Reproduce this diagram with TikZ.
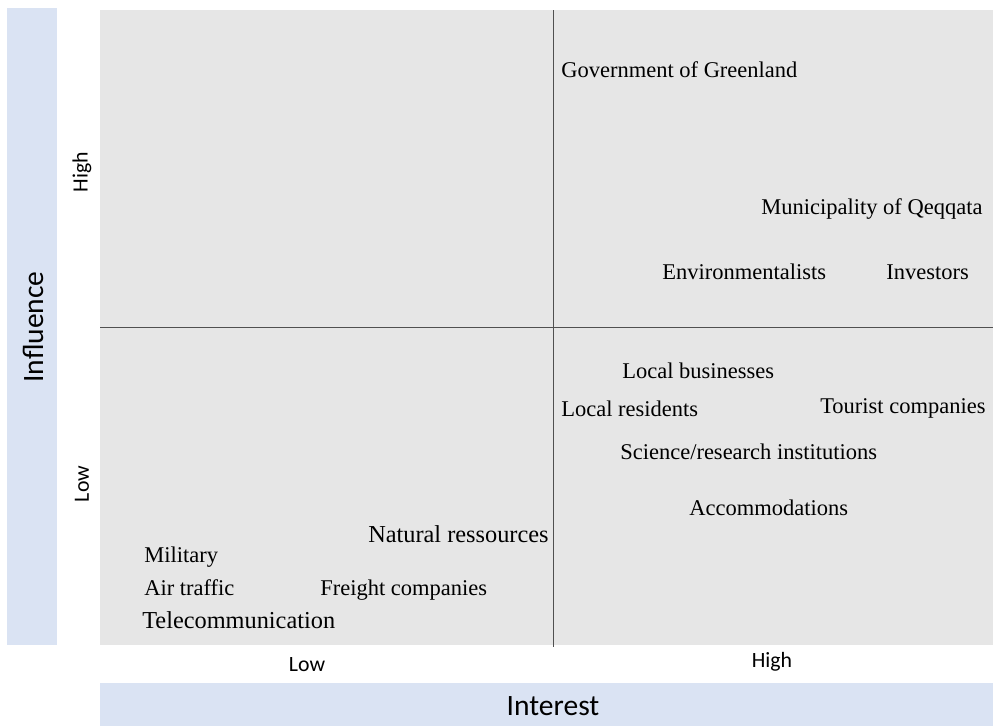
\documentclass[tikz,border=0pt]{standalone}
\usepackage{fontspec}
\setmainfont{Liberation Serif}
\newfontfamily\axisfont{Carlito}
\usepackage{xcolor}
\usepackage{tikz}
\usetikzlibrary{positioning}

\definecolor{quadgray}{HTML}{E6E6E6}
\definecolor{barblue}{HTML}{DAE3F3}
\definecolor{linegray}{HTML}{505050}

\begin{document}
\begin{tikzpicture}[
    x=0.025cm, y=-0.025cm,
    stake/.style={anchor=base west, inner sep=0pt, font=\fontsize{16}{19}\selectfont},
    bigstake/.style={stake, font=\fontsize{17.3}{20}\selectfont},
    levellab/.style={inner sep=0pt, font=\axisfont\fontsize{15.5}{18}\selectfont},
    axislab/.style={inner sep=0pt, font=\axisfont\fontsize{21}{24}\selectfont}
]

\useasboundingbox (0,0) rectangle (993,726);

% background bars and quadrant field
\fill[barblue] (7,8) rectangle (57,645);
\fill[barblue] (100,683) rectangle (993,726);
\fill[quadgray] (100,10) rectangle (993,645);

\draw[linegray, thin] (553,10) -- (553,647);
\draw[linegray, thin] (100,327) -- (993,327);

% axis titles
\node[axislab, rotate=90] (influence) at (33,327) {Influence};
\node[axislab] (interest) at (553,706) {Interest};

\node[levellab, rotate=90] (infhigh) at (82,172) {High};
\node[levellab, rotate=90] (inflow) at (82,484) {Low};
\node[levellab] (intlow) at (307,665) {Low};
\node[levellab] (inthigh) at (772,662) {High};

% high interest, high influence
\node[stake] (gov) at (561,77) {Government of Greenland};
\node[stake] (muni) at (761,214) {Municipality of Qeqqata};
\node[stake] (env) at (662,279) {Environmentalists};
\node[stake] (invest) at (886,279) {Investors};

% high interest, low influence
\node[stake] (locbus) at (622,378) {Local businesses};
\node[stake] (locres) at (561,416) {Local residents};
\node[stake] (tourist) at (820,413) {Tourist companies};
\node[stake] (science) at (620,459) {Science/research institutions};
\node[stake] (accom) at (689,515) {Accommodations};

% low interest, low influence
\node[bigstake] (natres) at (368,542) {Natural ressources};
\node[stake] (military) at (144,562) {Military};
\node[stake] (air) at (144,595) {Air traffic};
\node[stake] (freight) at (320,595) {Freight companies};
\node[bigstake] (telecom) at (142,628) {Telecommunication};

\end{tikzpicture}
\end{document}
